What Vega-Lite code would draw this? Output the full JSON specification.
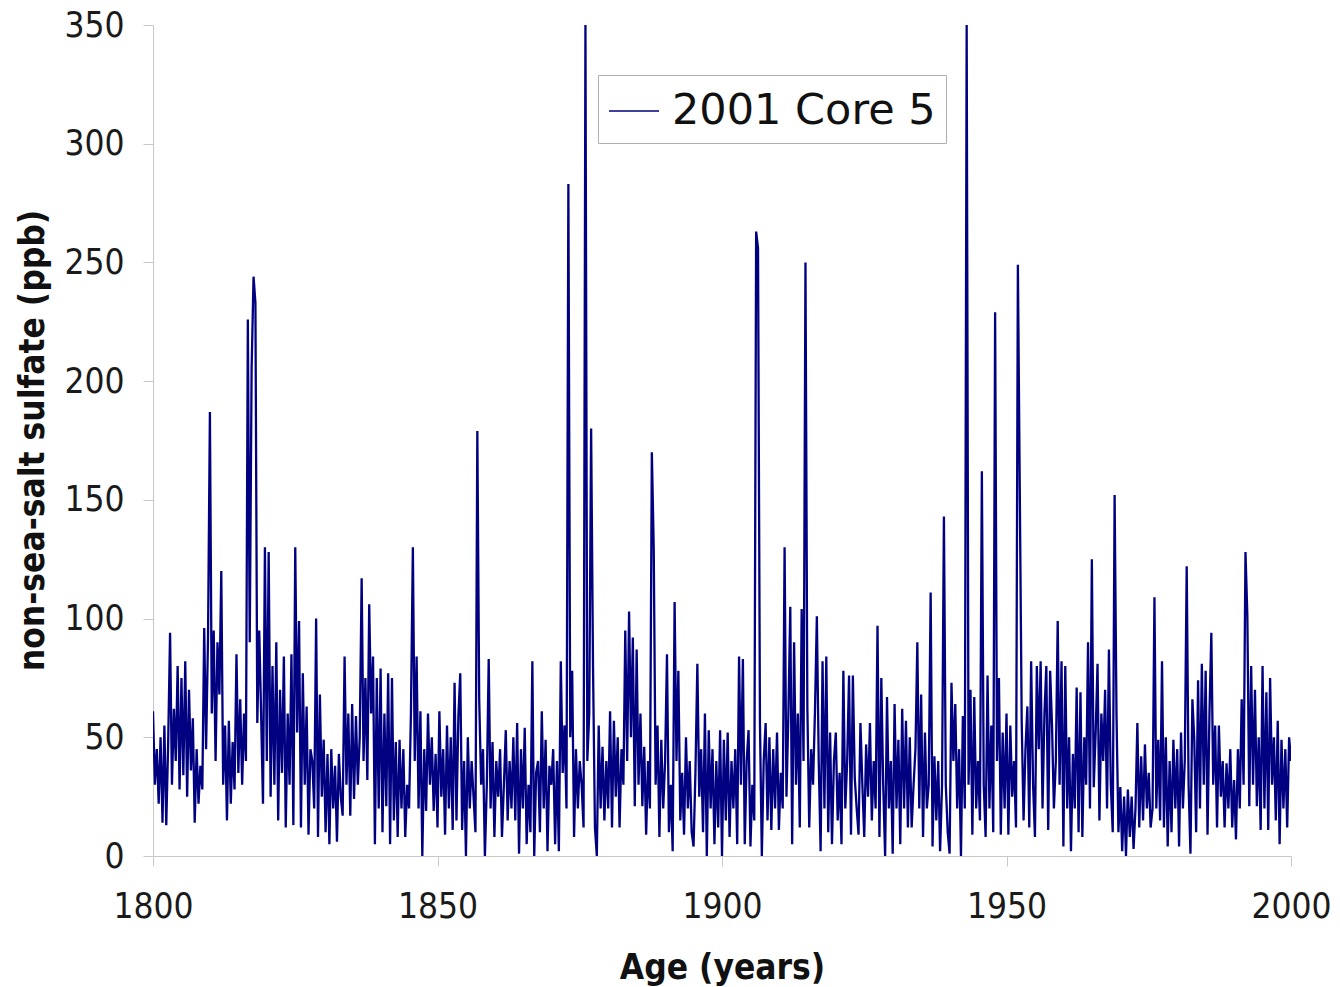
{
"$schema":"https://vega.github.io/schema/vega-lite/v6.json",
"width":1138,"height":831,
"autosize":{"type":"none"},
"padding":{"left":153,"top":25,"right":49,"bottom":131},
"background":"white",
"config":{"view":{"stroke":null},"font":"DejaVu Sans"},
"data":{"values":[
{"year":1800,"ppb":61},{"year":1800.33,"ppb":30},{"year":1800.67,"ppb":45},
{"year":1801,"ppb":22},{"year":1801.33,"ppb":50},{"year":1801.67,"ppb":14},
{"year":1802,"ppb":55},{"year":1802.33,"ppb":13},{"year":1802.67,"ppb":48},
{"year":1803,"ppb":94},{"year":1803.33,"ppb":30},{"year":1803.67,"ppb":62},
{"year":1804,"ppb":40},{"year":1804.33,"ppb":80},{"year":1804.67,"ppb":28},
{"year":1805,"ppb":75},{"year":1805.33,"ppb":34},{"year":1805.67,"ppb":82},
{"year":1806,"ppb":25},{"year":1806.33,"ppb":70},{"year":1806.67,"ppb":36},
{"year":1807,"ppb":58},{"year":1807.33,"ppb":14},{"year":1807.67,"ppb":45},
{"year":1808,"ppb":22},{"year":1808.33,"ppb":38},{"year":1808.67,"ppb":28},
{"year":1809,"ppb":96},{"year":1809.33,"ppb":45},{"year":1809.67,"ppb":92},
{"year":1810,"ppb":187},{"year":1810.33,"ppb":60},{"year":1810.67,"ppb":95},
{"year":1811,"ppb":40},{"year":1811.33,"ppb":90},{"year":1811.67,"ppb":68},
{"year":1812,"ppb":120},{"year":1812.33,"ppb":30},{"year":1812.67,"ppb":55},
{"year":1813,"ppb":15},{"year":1813.33,"ppb":57},{"year":1813.67,"ppb":22},
{"year":1814,"ppb":48},{"year":1814.33,"ppb":28},{"year":1814.67,"ppb":85},
{"year":1815,"ppb":35},{"year":1815.33,"ppb":66},{"year":1815.67,"ppb":30},
{"year":1816,"ppb":60},{"year":1816.33,"ppb":40},{"year":1816.67,"ppb":226},
{"year":1817,"ppb":90},{"year":1817.33,"ppb":205},{"year":1817.67,"ppb":244},
{"year":1818,"ppb":233},{"year":1818.33,"ppb":56},{"year":1818.67,"ppb":95},
{"year":1819,"ppb":60},{"year":1819.33,"ppb":22},{"year":1819.67,"ppb":130},
{"year":1820,"ppb":40},{"year":1820.33,"ppb":128},{"year":1820.67,"ppb":25},
{"year":1821,"ppb":80},{"year":1821.33,"ppb":30},{"year":1821.67,"ppb":90},
{"year":1822,"ppb":15},{"year":1822.33,"ppb":70},{"year":1822.67,"ppb":35},
{"year":1823,"ppb":84},{"year":1823.33,"ppb":12},{"year":1823.67,"ppb":60},
{"year":1824,"ppb":30},{"year":1824.33,"ppb":85},{"year":1824.67,"ppb":13},
{"year":1825,"ppb":130},{"year":1825.33,"ppb":52},{"year":1825.67,"ppb":99},
{"year":1826,"ppb":12},{"year":1826.33,"ppb":77},{"year":1826.67,"ppb":30},
{"year":1827,"ppb":63},{"year":1827.33,"ppb":9},{"year":1827.67,"ppb":45},
{"year":1828,"ppb":40},{"year":1828.33,"ppb":20},{"year":1828.67,"ppb":100},
{"year":1829,"ppb":8},{"year":1829.33,"ppb":68},{"year":1829.67,"ppb":25},
{"year":1830,"ppb":49},{"year":1830.33,"ppb":10},{"year":1830.67,"ppb":43},
{"year":1831,"ppb":5},{"year":1831.33,"ppb":45},{"year":1831.67,"ppb":20},
{"year":1832,"ppb":38},{"year":1832.33,"ppb":6},{"year":1832.67,"ppb":43},
{"year":1833,"ppb":25},{"year":1833.33,"ppb":17},{"year":1833.67,"ppb":84},
{"year":1834,"ppb":30},{"year":1834.33,"ppb":60},{"year":1834.67,"ppb":17},
{"year":1835,"ppb":64},{"year":1835.33,"ppb":24},{"year":1835.67,"ppb":59},
{"year":1836,"ppb":30},{"year":1836.33,"ppb":50},{"year":1836.67,"ppb":117},
{"year":1837,"ppb":40},{"year":1837.33,"ppb":75},{"year":1837.67,"ppb":32},
{"year":1838,"ppb":106},{"year":1838.33,"ppb":60},{"year":1838.67,"ppb":84},
{"year":1839,"ppb":5},{"year":1839.33,"ppb":75},{"year":1839.67,"ppb":20},
{"year":1840,"ppb":79},{"year":1840.33,"ppb":10},{"year":1840.67,"ppb":60},
{"year":1841,"ppb":21},{"year":1841.33,"ppb":77},{"year":1841.67,"ppb":5},
{"year":1842,"ppb":75},{"year":1842.33,"ppb":15},{"year":1842.67,"ppb":48},
{"year":1843,"ppb":8},{"year":1843.33,"ppb":49},{"year":1843.67,"ppb":20},
{"year":1844,"ppb":45},{"year":1844.33,"ppb":8},{"year":1844.67,"ppb":30},
{"year":1845,"ppb":20},{"year":1845.33,"ppb":60},{"year":1845.67,"ppb":130},
{"year":1846,"ppb":40},{"year":1846.33,"ppb":84},{"year":1846.67,"ppb":20},
{"year":1847,"ppb":61},{"year":1847.33,"ppb":0},{"year":1847.67,"ppb":45},
{"year":1848,"ppb":19},{"year":1848.33,"ppb":60},{"year":1848.67,"ppb":30},
{"year":1849,"ppb":50},{"year":1849.33,"ppb":19},{"year":1849.67,"ppb":43},
{"year":1850,"ppb":12},{"year":1850.33,"ppb":61},{"year":1850.67,"ppb":25},
{"year":1851,"ppb":45},{"year":1851.33,"ppb":9},{"year":1851.67,"ppb":55},
{"year":1852,"ppb":20},{"year":1852.33,"ppb":50},{"year":1852.67,"ppb":11},
{"year":1853,"ppb":73},{"year":1853.33,"ppb":15},{"year":1853.67,"ppb":59},
{"year":1854,"ppb":77},{"year":1854.33,"ppb":11},{"year":1854.67,"ppb":40},
{"year":1855,"ppb":0},{"year":1855.33,"ppb":50},{"year":1855.67,"ppb":20},
{"year":1856,"ppb":40},{"year":1856.33,"ppb":25},{"year":1856.67,"ppb":10},
{"year":1857,"ppb":179},{"year":1857.33,"ppb":66},{"year":1857.67,"ppb":30},
{"year":1858,"ppb":45},{"year":1858.33,"ppb":0},{"year":1858.67,"ppb":30},
{"year":1859,"ppb":83},{"year":1859.33,"ppb":20},{"year":1859.67,"ppb":48},
{"year":1860,"ppb":8},{"year":1860.33,"ppb":40},{"year":1860.67,"ppb":25},
{"year":1861,"ppb":45},{"year":1861.33,"ppb":8},{"year":1861.67,"ppb":30},
{"year":1862,"ppb":53},{"year":1862.33,"ppb":15},{"year":1862.67,"ppb":40},
{"year":1863,"ppb":20},{"year":1863.33,"ppb":50},{"year":1863.67,"ppb":15},
{"year":1864,"ppb":56},{"year":1864.33,"ppb":1},{"year":1864.67,"ppb":45},
{"year":1865,"ppb":20},{"year":1865.33,"ppb":54},{"year":1865.67,"ppb":5},
{"year":1866,"ppb":30},{"year":1866.33,"ppb":10},{"year":1866.67,"ppb":82},
{"year":1867,"ppb":0},{"year":1867.33,"ppb":35},{"year":1867.67,"ppb":40},
{"year":1868,"ppb":10},{"year":1868.33,"ppb":61},{"year":1868.67,"ppb":20},
{"year":1869,"ppb":49},{"year":1869.33,"ppb":2},{"year":1869.67,"ppb":38},
{"year":1870,"ppb":30},{"year":1870.33,"ppb":45},{"year":1870.67,"ppb":5},
{"year":1871,"ppb":40},{"year":1871.33,"ppb":2},{"year":1871.67,"ppb":82},
{"year":1872,"ppb":35},{"year":1872.33,"ppb":55},{"year":1872.67,"ppb":20},
{"year":1873,"ppb":283},{"year":1873.33,"ppb":50},{"year":1873.67,"ppb":78},
{"year":1874,"ppb":8},{"year":1874.33,"ppb":45},{"year":1874.67,"ppb":20},
{"year":1875,"ppb":40},{"year":1875.33,"ppb":30},{"year":1875.67,"ppb":12},
{"year":1876,"ppb":350},{"year":1876.33,"ppb":40},{"year":1876.67,"ppb":60},
{"year":1877,"ppb":180},{"year":1877.33,"ppb":80},{"year":1877.67,"ppb":12},
{"year":1878,"ppb":0},{"year":1878.33,"ppb":55},{"year":1878.67,"ppb":20},
{"year":1879,"ppb":46},{"year":1879.33,"ppb":15},{"year":1879.67,"ppb":40},
{"year":1880,"ppb":20},{"year":1880.33,"ppb":61},{"year":1880.67,"ppb":12},
{"year":1881,"ppb":57},{"year":1881.33,"ppb":25},{"year":1881.67,"ppb":50},
{"year":1882,"ppb":12},{"year":1882.33,"ppb":45},{"year":1882.67,"ppb":30},
{"year":1883,"ppb":95},{"year":1883.33,"ppb":40},{"year":1883.67,"ppb":103},
{"year":1884,"ppb":50},{"year":1884.33,"ppb":92},{"year":1884.67,"ppb":21},
{"year":1885,"ppb":87},{"year":1885.33,"ppb":30},{"year":1885.67,"ppb":60},
{"year":1886,"ppb":21},{"year":1886.33,"ppb":46},{"year":1886.67,"ppb":9},
{"year":1887,"ppb":40},{"year":1887.33,"ppb":20},{"year":1887.67,"ppb":170},
{"year":1888,"ppb":130},{"year":1888.33,"ppb":30},{"year":1888.67,"ppb":55},
{"year":1889,"ppb":8},{"year":1889.33,"ppb":49},{"year":1889.67,"ppb":20},
{"year":1890,"ppb":40},{"year":1890.33,"ppb":85},{"year":1890.67,"ppb":10},
{"year":1891,"ppb":30},{"year":1891.33,"ppb":2},{"year":1891.67,"ppb":107},
{"year":1892,"ppb":40},{"year":1892.33,"ppb":78},{"year":1892.67,"ppb":15},
{"year":1893,"ppb":35},{"year":1893.33,"ppb":9},{"year":1893.67,"ppb":50},
{"year":1894,"ppb":20},{"year":1894.33,"ppb":40},{"year":1894.67,"ppb":10},
{"year":1895,"ppb":4},{"year":1895.33,"ppb":35},{"year":1895.67,"ppb":81},
{"year":1896,"ppb":25},{"year":1896.33,"ppb":45},{"year":1896.67,"ppb":10},
{"year":1897,"ppb":60},{"year":1897.33,"ppb":0},{"year":1897.67,"ppb":53},
{"year":1898,"ppb":20},{"year":1898.33,"ppb":45},{"year":1898.67,"ppb":5},
{"year":1899,"ppb":40},{"year":1899.33,"ppb":12},{"year":1899.67,"ppb":53},
{"year":1900,"ppb":0},{"year":1900.33,"ppb":49},{"year":1900.67,"ppb":15},
{"year":1901,"ppb":52},{"year":1901.33,"ppb":8},{"year":1901.67,"ppb":40},
{"year":1902,"ppb":20},{"year":1902.33,"ppb":45},{"year":1902.67,"ppb":5},
{"year":1903,"ppb":84},{"year":1903.33,"ppb":30},{"year":1903.67,"ppb":83},
{"year":1904,"ppb":5},{"year":1904.33,"ppb":40},{"year":1904.67,"ppb":53},
{"year":1905,"ppb":4},{"year":1905.33,"ppb":30},{"year":1905.67,"ppb":15},
{"year":1906,"ppb":263},{"year":1906.33,"ppb":256},{"year":1906.67,"ppb":56},
{"year":1907,"ppb":0},{"year":1907.33,"ppb":40},{"year":1907.67,"ppb":56},
{"year":1908,"ppb":15},{"year":1908.33,"ppb":50},{"year":1908.67,"ppb":11},
{"year":1909,"ppb":45},{"year":1909.33,"ppb":20},{"year":1909.67,"ppb":52},
{"year":1910,"ppb":11},{"year":1910.33,"ppb":35},{"year":1910.67,"ppb":20},
{"year":1911,"ppb":130},{"year":1911.33,"ppb":25},{"year":1911.67,"ppb":60},
{"year":1912,"ppb":105},{"year":1912.33,"ppb":5},{"year":1912.67,"ppb":90},
{"year":1913,"ppb":30},{"year":1913.33,"ppb":60},{"year":1913.67,"ppb":12},
{"year":1914,"ppb":104},{"year":1914.33,"ppb":40},{"year":1914.67,"ppb":250},
{"year":1915,"ppb":63},{"year":1915.33,"ppb":12},{"year":1915.67,"ppb":45},
{"year":1916,"ppb":30},{"year":1916.33,"ppb":60},{"year":1916.67,"ppb":101},
{"year":1917,"ppb":40},{"year":1917.33,"ppb":2},{"year":1917.67,"ppb":82},
{"year":1918,"ppb":20},{"year":1918.33,"ppb":84},{"year":1918.67,"ppb":10},
{"year":1919,"ppb":52},{"year":1919.33,"ppb":5},{"year":1919.67,"ppb":40},
{"year":1920,"ppb":52},{"year":1920.33,"ppb":15},{"year":1920.67,"ppb":35},
{"year":1921,"ppb":5},{"year":1921.33,"ppb":78},{"year":1921.67,"ppb":20},
{"year":1922,"ppb":40},{"year":1922.33,"ppb":76},{"year":1922.67,"ppb":9},
{"year":1923,"ppb":76},{"year":1923.33,"ppb":33},{"year":1923.67,"ppb":20},
{"year":1924,"ppb":9},{"year":1924.33,"ppb":56},{"year":1924.67,"ppb":30},
{"year":1925,"ppb":8},{"year":1925.33,"ppb":47},{"year":1925.67,"ppb":25},
{"year":1926,"ppb":56},{"year":1926.33,"ppb":15},{"year":1926.67,"ppb":40},
{"year":1927,"ppb":20},{"year":1927.33,"ppb":97},{"year":1927.67,"ppb":8},
{"year":1928,"ppb":75},{"year":1928.33,"ppb":30},{"year":1928.67,"ppb":0},
{"year":1929,"ppb":67},{"year":1929.33,"ppb":20},{"year":1929.67,"ppb":40},
{"year":1930,"ppb":1},{"year":1930.33,"ppb":64},{"year":1930.67,"ppb":20},
{"year":1931,"ppb":49},{"year":1931.33,"ppb":5},{"year":1931.67,"ppb":62},
{"year":1932,"ppb":20},{"year":1932.33,"ppb":57},{"year":1932.67,"ppb":12},
{"year":1933,"ppb":50},{"year":1933.33,"ppb":12},{"year":1933.67,"ppb":30},
{"year":1934,"ppb":45},{"year":1934.33,"ppb":90},{"year":1934.67,"ppb":20},
{"year":1935,"ppb":68},{"year":1935.33,"ppb":8},{"year":1935.67,"ppb":52},
{"year":1936,"ppb":20},{"year":1936.33,"ppb":30},{"year":1936.67,"ppb":111},
{"year":1937,"ppb":4},{"year":1937.33,"ppb":42},{"year":1937.67,"ppb":15},
{"year":1938,"ppb":40},{"year":1938.33,"ppb":2},{"year":1938.67,"ppb":30},
{"year":1939,"ppb":143},{"year":1939.33,"ppb":30},{"year":1939.67,"ppb":10},
{"year":1940,"ppb":1},{"year":1940.33,"ppb":73},{"year":1940.67,"ppb":40},
{"year":1941,"ppb":64},{"year":1941.33,"ppb":20},{"year":1941.67,"ppb":45},
{"year":1942,"ppb":0},{"year":1942.33,"ppb":59},{"year":1942.67,"ppb":20},
{"year":1943,"ppb":350},{"year":1943.33,"ppb":30},{"year":1943.67,"ppb":70},
{"year":1944,"ppb":9},{"year":1944.33,"ppb":67},{"year":1944.67,"ppb":20},
{"year":1945,"ppb":40},{"year":1945.33,"ppb":15},{"year":1945.67,"ppb":162},
{"year":1946,"ppb":30},{"year":1946.33,"ppb":8},{"year":1946.67,"ppb":76},
{"year":1947,"ppb":20},{"year":1947.33,"ppb":55},{"year":1947.67,"ppb":10},
{"year":1948,"ppb":229},{"year":1948.33,"ppb":40},{"year":1948.67,"ppb":75},
{"year":1949,"ppb":9},{"year":1949.33,"ppb":52},{"year":1949.67,"ppb":20},
{"year":1950,"ppb":60},{"year":1950.33,"ppb":9},{"year":1950.67,"ppb":55},
{"year":1951,"ppb":25},{"year":1951.33,"ppb":40},{"year":1951.67,"ppb":12},
{"year":1952,"ppb":249},{"year":1952.33,"ppb":155},{"year":1952.67,"ppb":57},
{"year":1953,"ppb":15},{"year":1953.33,"ppb":45},{"year":1953.67,"ppb":63},
{"year":1954,"ppb":12},{"year":1954.33,"ppb":82},{"year":1954.67,"ppb":30},
{"year":1955,"ppb":8},{"year":1955.33,"ppb":80},{"year":1955.67,"ppb":45},
{"year":1956,"ppb":82},{"year":1956.33,"ppb":20},{"year":1956.67,"ppb":60},
{"year":1957,"ppb":80},{"year":1957.33,"ppb":11},{"year":1957.67,"ppb":78},
{"year":1958,"ppb":55},{"year":1958.33,"ppb":20},{"year":1958.67,"ppb":40},
{"year":1959,"ppb":99},{"year":1959.33,"ppb":30},{"year":1959.67,"ppb":82},
{"year":1960,"ppb":4},{"year":1960.33,"ppb":80},{"year":1960.67,"ppb":20},
{"year":1961,"ppb":50},{"year":1961.33,"ppb":2},{"year":1961.67,"ppb":43},
{"year":1962,"ppb":20},{"year":1962.33,"ppb":71},{"year":1962.67,"ppb":10},
{"year":1963,"ppb":69},{"year":1963.33,"ppb":8},{"year":1963.67,"ppb":50},
{"year":1964,"ppb":30},{"year":1964.33,"ppb":90},{"year":1964.67,"ppb":20},
{"year":1965,"ppb":125},{"year":1965.33,"ppb":29},{"year":1965.67,"ppb":52},
{"year":1966,"ppb":81},{"year":1966.33,"ppb":15},{"year":1966.67,"ppb":60},
{"year":1967,"ppb":40},{"year":1967.33,"ppb":70},{"year":1967.67,"ppb":20},
{"year":1968,"ppb":87},{"year":1968.33,"ppb":30},{"year":1968.67,"ppb":10},
{"year":1969,"ppb":152},{"year":1969.33,"ppb":60},{"year":1969.67,"ppb":10},
{"year":1970,"ppb":29},{"year":1970.33,"ppb":2},{"year":1970.67,"ppb":25},
{"year":1971,"ppb":0},{"year":1971.33,"ppb":28},{"year":1971.67,"ppb":8},
{"year":1972,"ppb":25},{"year":1972.33,"ppb":3},{"year":1972.67,"ppb":20},
{"year":1973,"ppb":56},{"year":1973.33,"ppb":12},{"year":1973.67,"ppb":42},
{"year":1974,"ppb":15},{"year":1974.33,"ppb":47},{"year":1974.67,"ppb":20},
{"year":1975,"ppb":35},{"year":1975.33,"ppb":12},{"year":1975.67,"ppb":20},
{"year":1976,"ppb":109},{"year":1976.33,"ppb":20},{"year":1976.67,"ppb":49},
{"year":1977,"ppb":15},{"year":1977.33,"ppb":82},{"year":1977.67,"ppb":12},
{"year":1978,"ppb":50},{"year":1978.33,"ppb":4},{"year":1978.67,"ppb":40},
{"year":1979,"ppb":10},{"year":1979.33,"ppb":49},{"year":1979.67,"ppb":20},
{"year":1980,"ppb":45},{"year":1980.33,"ppb":4},{"year":1980.67,"ppb":52},
{"year":1981,"ppb":20},{"year":1981.33,"ppb":40},{"year":1981.67,"ppb":122},
{"year":1982,"ppb":30},{"year":1982.33,"ppb":1},{"year":1982.67,"ppb":66},
{"year":1983,"ppb":49},{"year":1983.33,"ppb":10},{"year":1983.67,"ppb":74},
{"year":1984,"ppb":20},{"year":1984.33,"ppb":81},{"year":1984.67,"ppb":30},
{"year":1985,"ppb":78},{"year":1985.33,"ppb":9},{"year":1985.67,"ppb":60},
{"year":1986,"ppb":94},{"year":1986.33,"ppb":30},{"year":1986.67,"ppb":55},
{"year":1987,"ppb":12},{"year":1987.33,"ppb":55},{"year":1987.67,"ppb":25},
{"year":1988,"ppb":40},{"year":1988.33,"ppb":12},{"year":1988.67,"ppb":39},
{"year":1989,"ppb":20},{"year":1989.33,"ppb":45},{"year":1989.67,"ppb":12},
{"year":1990,"ppb":32},{"year":1990.33,"ppb":7},{"year":1990.67,"ppb":45},
{"year":1991,"ppb":20},{"year":1991.33,"ppb":66},{"year":1991.67,"ppb":30},
{"year":1992,"ppb":128},{"year":1992.33,"ppb":101},{"year":1992.67,"ppb":21},
{"year":1993,"ppb":80},{"year":1993.33,"ppb":30},{"year":1993.67,"ppb":70},
{"year":1994,"ppb":21},{"year":1994.33,"ppb":50},{"year":1994.67,"ppb":11},
{"year":1995,"ppb":80},{"year":1995.33,"ppb":20},{"year":1995.67,"ppb":69},
{"year":1996,"ppb":11},{"year":1996.33,"ppb":75},{"year":1996.67,"ppb":30},
{"year":1997,"ppb":50},{"year":1997.33,"ppb":15},{"year":1997.67,"ppb":57},
{"year":1998,"ppb":5},{"year":1998.33,"ppb":49},{"year":1998.67,"ppb":20},
{"year":1999,"ppb":45},{"year":1999.33,"ppb":12},{"year":1999.67,"ppb":50},
{"year":2000,"ppb":40}
]},
"mark":{"type":"line","strokeWidth":2.3,"clip":true},
"encoding":{
"x":{"field":"year","type":"quantitative","scale":{"domain":[1800,2000],"nice":false,"zero":false},
"axis":{"values":[1800,1850,1900,1950,2000],"format":"d","title":"Age (years)","grid":false,"domainColor":"#c8c8c8","tickColor":"#c8c8c8","tickSize":10,"labelFont":"DejaVu Sans Condensed","labelFontSize":35,"labelColor":"#1a1a1a","labelPadding":23,"labelFlush":false,"labelOverlap":false,"titleFont":"DejaVu Sans Condensed","titleFontSize":35,"titleFontWeight":"bold","titleColor":"#111111","titleX":569,"titleY":111,"titleBaseline":"middle","titleAlign":"center"}},
"y":{"field":"ppb","type":"quantitative","scale":{"domain":[0,350],"nice":false},
"axis":{"values":[0,50,100,150,200,250,300,350],"title":"non-sea-salt sulfate (ppb)","grid":false,"domainColor":"#c8c8c8","tickColor":"#c8c8c8","tickSize":10,"labelFont":"DejaVu Sans Condensed","labelFontSize":35,"labelColor":"#1a1a1a","labelPadding":19,"labelOverlap":false,"titleFont":"DejaVu Sans Condensed","titleFontSize":35,"titleFontWeight":"bold","titleColor":"#111111","titleX":-121,"titleY":415,"titleAngle":-90,"titleBaseline":"middle","titleAlign":"center"}},
"color":{"datum":"2001 Core 5","type":"nominal","scale":{"range":["#000080"]},
"legend":{"title":null,"orient":"none","legendX":445,"legendY":50,"strokeColor":"#b0b0b0","fillColor":"white","padding":10,"symbolType":"stroke","symbolSize":2500,"symbolStrokeWidth":1.5,"labelFont":"DejaVu Sans","labelFontSize":43,"labelColor":"#111111","labelOffset":12,"labelLimit":0}}
}
}
